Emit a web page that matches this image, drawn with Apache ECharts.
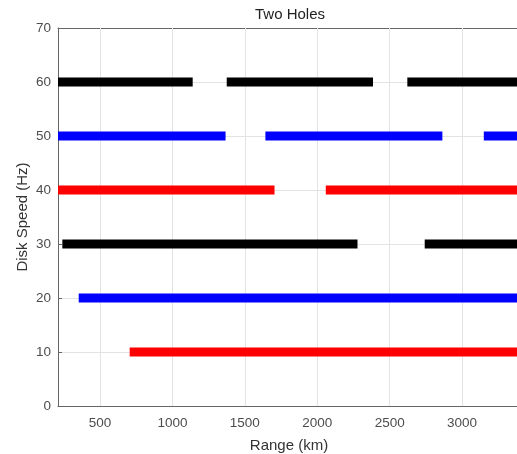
<!DOCTYPE html>
<html><head><meta charset="utf-8">
<script src="https://cdn.jsdelivr.net/npm/echarts@6/dist/echarts.min.js"></script>
<style>html,body{margin:0;padding:0;background:#fff;overflow:hidden}#c{width:517px;height:454px}</style>
</head><body><div id="c"></div>
<script>
// Disk speeds (Hz) and detection segments [start km, end km]
const speeds = [60, 50, 40, 30, 20, 10];
const colors = ['#000000', '#0000ff', '#ff0000', '#000000', '#0000ff', '#ff0000'];
const seg60 = [[210, 1140], [1375, 2385], [2622, 3400]];
const seg50 = [[210, 1367], [1642, 2864], [3150, 3400]];
const seg40 = [[210, 1705], [2059, 3400]];
const seg30 = [[240, 2278], [2742, 3400]];
const seg20 = [[353, 3400]];
const seg10 = [[705, 3400]];
const segments = [seg60, seg50, seg40, seg30, seg20, seg10];
const xTicks = [500, 1000, 1500, 2000, 2500, 3000];
const yTicks = [0, 10, 20, 30, 40, 50, 60, 70];
const xMin = 210, xMax = 3400;

const series = speeds.map((s, i) => {
  const data = [];
  segments[i].forEach(([a, b]) => { data.push([a, s], [b, s], [b, '-']); });
  return {
    type: 'line', data, showSymbol: false, connectNulls: false, z: 5,
    lineStyle: { color: colors[i], width: 9, cap: 'butt' }, silent: true, animation: false
  };
});

const txt = '#4d4d4d';
const axisCol = '#666666';
const font = 'Liberation Sans';
const chart = echarts.init(document.getElementById('c'));
chart.setOption({
  animation: false,
  title: { text: 'Two Holes', left: 285, textAlign: 'center', top: 2,
    textStyle: { fontFamily: font, fontSize: 15, fontWeight: 'normal', color: '#222' } },
  grid: { left: 58, right: -3, top: 28, bottom: 48, containLabel: false, outerBoundsMode: 'none' },
  xAxis: [{
    type: 'value', min: xMin, max: xMax, position: 'bottom',
    name: 'Range (km)', nameLocation: 'middle', nameGap: 32, nameMoveOverlap: false,
    nameTextStyle: { fontFamily: font, fontSize: 15, color: '#333' },
    axisLine: { show: true, lineStyle: { color: axisCol, width: 1 } },
    axisTick: { show: true, inside: true, length: 4, customValues: xTicks, lineStyle: { color: axisCol } },
    axisLabel: { customValues: xTicks, margin: 10, fontFamily: font, fontSize: 13.5, color: txt,
      formatter: v => String(v) },
    splitLine: { show: false }
  }, {
    type: 'value', min: xMin, max: xMax, position: 'top',
    axisLine: { show: true, onZero: false, lineStyle: { color: axisCol, width: 1 } },
    axisTick: { show: true, inside: true, length: 4, customValues: xTicks, lineStyle: { color: axisCol } },
    axisLabel: { show: false }, splitLine: { show: false }
  }],
  yAxis: [{
    type: 'value', min: 0, max: 70, interval: 10,
    name: 'Disk Speed (Hz)', nameLocation: 'middle', nameGap: 28, nameMoveOverlap: false,
    nameTextStyle: { fontFamily: font, fontSize: 15, color: '#333' },
    axisLine: { show: true, lineStyle: { color: axisCol, width: 1 } },
    axisTick: { show: true, inside: true, length: 4, lineStyle: { color: axisCol } },
    axisLabel: { margin: 7, fontFamily: font, fontSize: 13.5, color: txt },
    splitLine: { show: true, lineStyle: { color: '#e3e3e3', width: 1 } }
  }],
  series: [
    {
      type: 'line', data: [], silent: true, z: 1,
      markLine: { symbol: 'none', silent: true, label: { show: false }, z: 1,
        lineStyle: { color: '#e3e3e3', width: 1, type: 'solid' },
        data: xTicks.map(v => ({ xAxis: v })) }
    },
    ...series
  ]
});
</script></body></html>
